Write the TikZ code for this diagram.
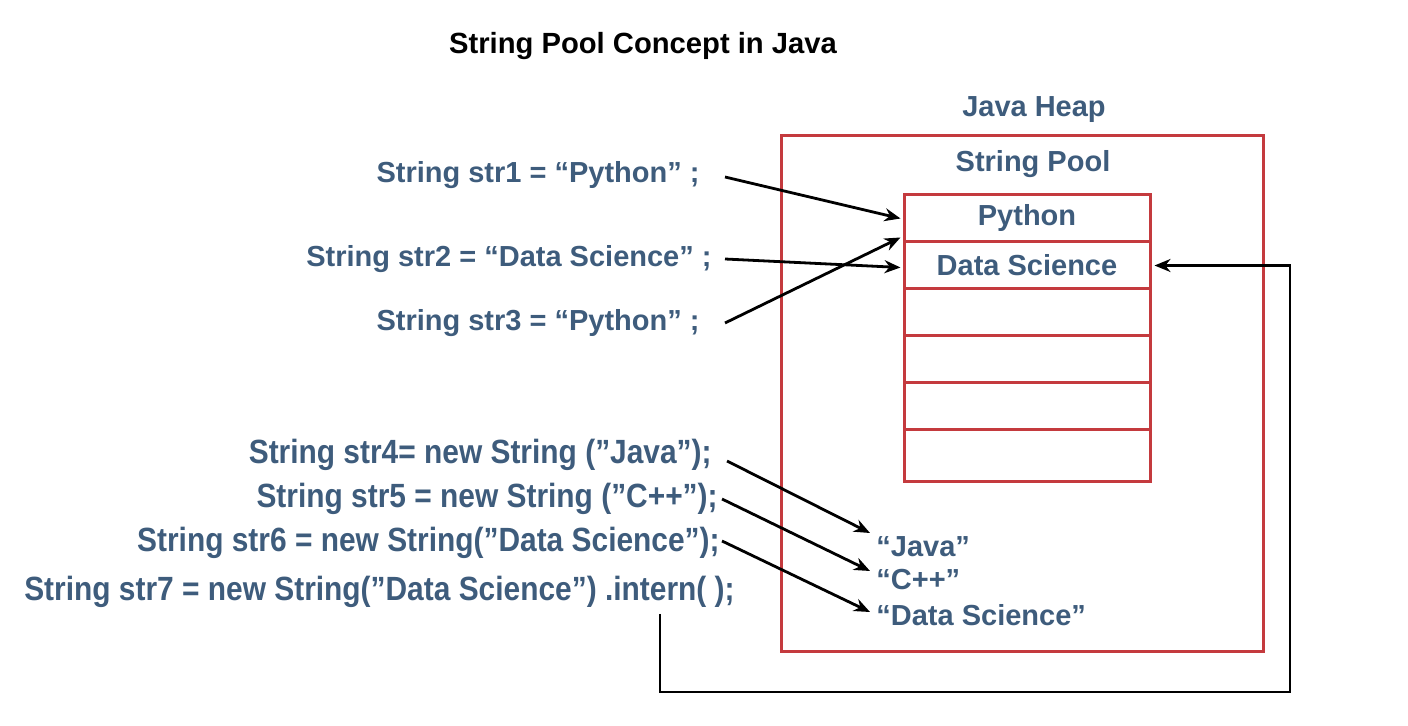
\documentclass[tikz,border=0pt]{standalone}
\usepackage{fontspec}
\setmainfont{Liberation Sans}
\newfontfamily\condfont[FakeStretch=0.89]{Liberation Sans}
\usetikzlibrary{arrows.meta,calc}
\definecolor{txt}{RGB}{62,92,124}
\definecolor{heapred}{RGB}{196,58,62}
\begin{document}
\begin{tikzpicture}[x=0.5pt,y=-0.5pt,
 lbl/.style={font=\bfseries\fontsize{14.5}{16}\selectfont, text=txt, inner sep=0pt},
 code/.style={lbl, anchor=east},
 codec/.style={font=\condfont\bfseries\fontsize{16.8}{18}\selectfont, text=txt, inner sep=0pt, anchor=east},
 cell/.style={draw=heapred, line width=1.5pt, minimum width=123pt, minimum height=23.5pt, inner sep=0pt, lbl},
 arr/.style={draw=black, line width=1.4pt, -{Stealth[length=8pt,width=6.5pt]}}
]
\useasboundingbox (0,0) rectangle (1408,726);
\node[font=\bfseries\fontsize{14.6}{16}\selectfont, inner sep=0pt] (title) at (643,46) {String Pool Concept in Java};
\node[draw=heapred, line width=1.5pt, minimum width=241pt, minimum height=257.5pt, inner sep=0pt] (heap) at (1022,393.5) {};
\node[lbl] (heaplbl) at (1034,110) {Java Heap};
\node[lbl] (poollbl) at (1033,164) {String Pool};
\node[cell] (r1) at (1027,218.5) {Python};
\node[cell] (r2) at (1027,265.5) {Data Science};
\node[cell] (r3) at (1027,312.5) {};
\node[cell] (r4) at (1027,359.5) {};
\node[cell] (r5) at (1027,406.5) {};
\node[cell, minimum height=26pt] (r6) at (1027,456) {};
\node[code] (s1) at (700,175) {String str1 = “Python” ;};
\node[code] (s2) at (712,259) {String str2 = “Data Science” ;};
\node[code] (s3) at (700,323) {String str3 = “Python” ;};
\node[codec] (s4) at (712,455) {String str4= new String (”Java”);};
\node[codec] (s5) at (718,499) {String str5 = new String (”C++”);};
\node[codec] (s6) at (720,543) {String str6 = new String(”Data Science”);};
\node[codec] (s7) at (735,592) {String str7 = new String(”Data Science”) .intern( );};
\node[lbl, anchor=west] (pj) at (876,547) {“Java”};
\node[lbl, anchor=west] (pc) at (876,580) {“C++”};
\node[lbl, anchor=west] (pd) at (876,615) {“Data Science”};
\draw[arr] ($(s1.east)+(25,2)$) -- ($(r1.west)+(-2,0)$);
\draw[arr] ($(s2.east)+(13,0)$) -- ($(r2.west)+(-2,2)$);
\draw[arr] ($(s3.east)+(25,0)$) -- ($(r1.south west)+(-2,-6)$);
\draw[arr] ($(s4.east)+(15,6)$) -- ($(pj.west)+(-6,-14)$);
\draw[arr] ($(s5.east)+(4,0)$) -- ($(pc.west)+(-6,-9)$);
\draw[arr] ($(s6.east)+(2,-2)$) -- ($(pd.west)+(-6,-3)$);
\coordinate (c7) at (660,614);
\coordinate (corner) at (1290,692);
\draw[arr] (c7) |- (corner) |- ($(r2.east)+(3,0)$);
\end{tikzpicture}
\end{document}
